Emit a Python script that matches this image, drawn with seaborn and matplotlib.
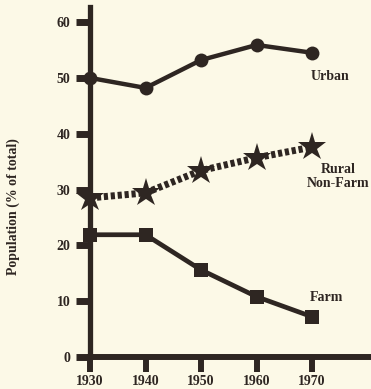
import matplotlib
matplotlib.use("Agg")
import matplotlib.pyplot as plt
import seaborn as sns
import pandas as pd

years = [1930, 1940, 1950, 1960, 1970]
urban = [50.0, 48.2, 53.2, 55.9, 54.5]
rural_nonfarm = [28.5, 29.4, 33.4, 35.7, 37.6]
farm = [21.9, 21.9, 15.6, 10.8, 7.2]
y_ticks = [0, 10, 20, 30, 40, 50, 60]

bg = "#FCF9E7"
ink = "#2E2622"

sns.set_theme(style="white")
plt.rcParams["font.family"] = ["Liberation Serif", "DejaVu Serif"]
plt.rcParams["font.weight"] = "bold"

fig = plt.figure(figsize=(3.71, 3.89), dpi=100, facecolor=bg)
ax = fig.add_axes([0.2426, 0.0823, 0.7574, 0.8997])
ax.set_facecolor(bg)

df = pd.DataFrame({"year": years, "Urban": urban, "Rural": rural_nonfarm, "Farm": farm})

sns.lineplot(data=df, x="year", y="Urban", ax=ax, color=ink, lw=3.2,
             marker="o", markersize=10, markeredgewidth=0, clip_on=False)
sns.lineplot(data=df, x="year", y="Rural", ax=ax, color=ink, lw=5,
             marker="*", markersize=21, markeredgewidth=0, clip_on=False,
             dashes=(0.6, 0.4))
sns.lineplot(data=df, x="year", y="Farm", ax=ax, color=ink, lw=3.4,
             marker="s", markersize=9.5, markeredgewidth=0, clip_on=False)

ax.set_xlim(1930, 1980.6)
ax.set_ylim(0, 62.7)
ax.set_xticks(years)
ax.set_yticks(y_ticks)
ax.set_xticklabels([str(y) for y in years])
ax.set_yticklabels([str(v) for v in y_ticks])

for s in ["top", "right"]:
    ax.spines[s].set_visible(False)
ax.spines["left"].set_color(ink)
ax.spines["left"].set_linewidth(3.8)
ax.spines["bottom"].set_color(ink)
ax.spines["bottom"].set_linewidth(4.3)

ax.tick_params(axis="y", direction="out", length=10, width=5, color=ink, pad=4,
               labelsize=10, labelcolor=ink, left=True)
ax.tick_params(axis="x", direction="out", length=11, width=4.3, color=ink, pad=2,
               labelsize=10, labelcolor=ink, bottom=True)

ax.set_xlabel("")
ax.set_ylabel("Population (% of total)", fontsize=10, color=ink,
              fontweight="bold")
ax.yaxis.set_label_coords(-0.25, 0.43)

ax.text(1969.8, 50.2, "Urban", fontsize=10, color=ink, fontweight="bold",
        va="center")
ax.text(1974.7, 32.3, "Rural\nNon-Farm", fontsize=10, color=ink,
        fontweight="bold", ha="center", va="center", linespacing=1.05)
ax.text(1969.6, 10.6, "Farm", fontsize=10, color=ink, fontweight="bold",
        va="center")

fig.savefig("out.png", dpi=100, facecolor=bg)
